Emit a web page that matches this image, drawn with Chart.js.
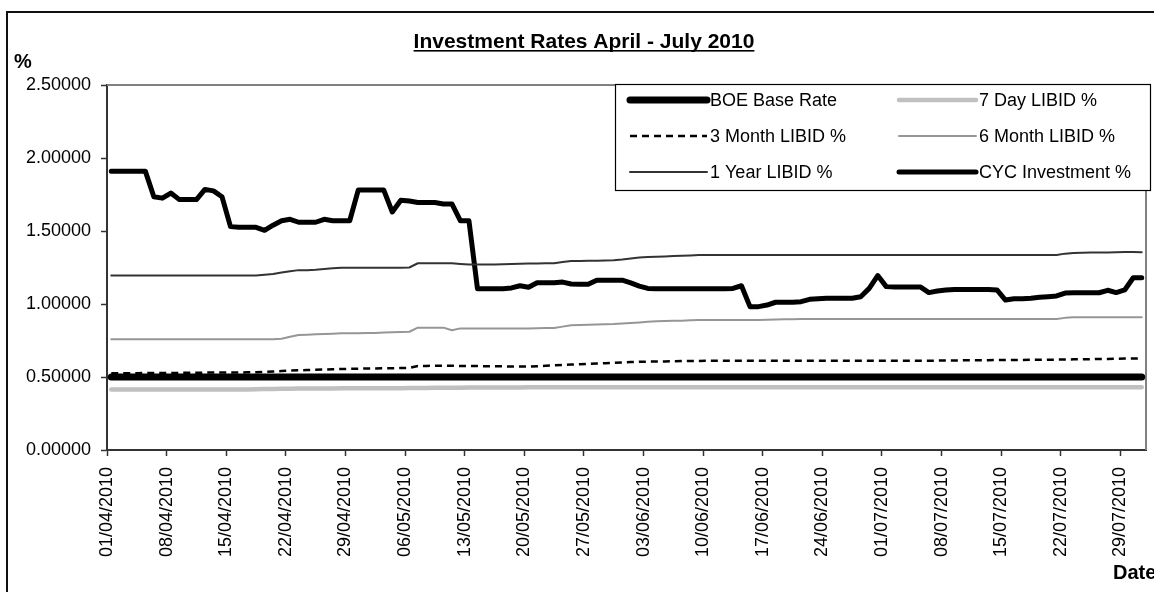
<!DOCTYPE html>
<html>
<head>
<meta charset="utf-8">
<title>Investment Rates April - July 2010</title>
<script src="https://cdn.jsdelivr.net/npm/chart.js@4.4.1/dist/chart.umd.min.js"></script>
<style>
    html, body { margin: 0; padding: 0; background: #fff; overflow: hidden; }
    #wrap { width: 1154px; height: 592px; }
</style>
</head>
<body>
<div id="wrap"><canvas id="rates" width="1154" height="592"></canvas></div>
<script>
// ---- text ----
const chartTitle = 'Investment Rates April - July 2010';
const yAxisTitle = '%';
const xAxisTitle = 'Date';

// weekly date labels (one every 7 days from 01/04/2010)
const tickLabels = [
    '01/04/2010', '08/04/2010', '15/04/2010', '22/04/2010', '29/04/2010',
    '06/05/2010', '13/05/2010', '20/05/2010', '27/05/2010', '03/06/2010',
    '10/06/2010', '17/06/2010', '24/06/2010', '01/07/2010', '08/07/2010',
    '15/07/2010', '22/07/2010', '29/07/2010'
];
const tickStepDays = 7;
const totalDays = 122; // 01/04/2010 - 31/07/2010

const yTickLabels = ['0.00000', '0.50000', '1.00000', '1.50000', '2.00000', '2.50000'];

const seriesNames = [
    'BOE Base Rate', '7 Day LIBID %', '3 Month LIBID %',
    '6 Month LIBID %', '1 Year LIBID %', 'CYC Investment %'
];

// ---- daily rates, one row per week ----
const boeBase = [
    0.5, 0.5, 0.5, 0.5, 0.5, 0.5, 0.5,
    0.5, 0.5, 0.5, 0.5, 0.5, 0.5, 0.5,
    0.5, 0.5, 0.5, 0.5, 0.5, 0.5, 0.5,
    0.5, 0.5, 0.5, 0.5, 0.5, 0.5, 0.5,
    0.5, 0.5, 0.5, 0.5, 0.5, 0.5, 0.5,
    0.5, 0.5, 0.5, 0.5, 0.5, 0.5, 0.5,
    0.5, 0.5, 0.5, 0.5, 0.5, 0.5, 0.5,
    0.5, 0.5, 0.5, 0.5, 0.5, 0.5, 0.5,
    0.5, 0.5, 0.5, 0.5, 0.5, 0.5, 0.5,
    0.5, 0.5, 0.5, 0.5, 0.5, 0.5, 0.5,
    0.5, 0.5, 0.5, 0.5, 0.5, 0.5, 0.5,
    0.5, 0.5, 0.5, 0.5, 0.5, 0.5, 0.5,
    0.5, 0.5, 0.5, 0.5, 0.5, 0.5, 0.5,
    0.5, 0.5, 0.5, 0.5, 0.5, 0.5, 0.5,
    0.5, 0.5, 0.5, 0.5, 0.5, 0.5, 0.5,
    0.5, 0.5, 0.5, 0.5, 0.5, 0.5, 0.5,
    0.5, 0.5, 0.5, 0.5, 0.5, 0.5, 0.5,
    0.5, 0.5, 0.5
];

const libid7Day = [
    0.415, 0.415, 0.415, 0.415, 0.415, 0.415, 0.415,
    0.415, 0.415, 0.415, 0.415, 0.415, 0.415, 0.415,
    0.415, 0.415, 0.415, 0.416, 0.417, 0.418, 0.419,
    0.42, 0.421, 0.421, 0.422, 0.422, 0.422, 0.423,
    0.423, 0.423, 0.423, 0.423, 0.423, 0.423, 0.423,
    0.424, 0.425, 0.425, 0.426, 0.426, 0.427, 0.427,
    0.428, 0.428, 0.428, 0.428, 0.428, 0.428, 0.428,
    0.429, 0.429, 0.429, 0.429, 0.429, 0.429, 0.429,
    0.43, 0.43, 0.43, 0.43, 0.43, 0.43, 0.43,
    0.43, 0.43, 0.43, 0.43, 0.43, 0.43, 0.43,
    0.43, 0.43, 0.43, 0.43, 0.43, 0.43, 0.43,
    0.43, 0.43, 0.43, 0.43, 0.43, 0.43, 0.43,
    0.43, 0.43, 0.43, 0.43, 0.43, 0.43, 0.43,
    0.43, 0.43, 0.43, 0.43, 0.43, 0.43, 0.43,
    0.43, 0.43, 0.43, 0.43, 0.43, 0.43, 0.43,
    0.43, 0.43, 0.43, 0.43, 0.43, 0.43, 0.43,
    0.43, 0.43, 0.43, 0.43, 0.43, 0.43, 0.43,
    0.43, 0.43, 0.43
];

const libid3Month = [
    0.525, 0.525, 0.526, 0.526, 0.527, 0.527, 0.528,
    0.528, 0.528, 0.529, 0.529, 0.53, 0.53, 0.53,
    0.531, 0.531, 0.532, 0.533, 0.535, 0.538, 0.541,
    0.544, 0.546, 0.548, 0.55, 0.551, 0.553, 0.555,
    0.556, 0.557, 0.558, 0.559, 0.56, 0.56, 0.561,
    0.562, 0.575, 0.576, 0.577, 0.577, 0.577, 0.576,
    0.576, 0.575, 0.574, 0.573, 0.573, 0.572, 0.572,
    0.572, 0.574, 0.577, 0.58, 0.582, 0.585, 0.588,
    0.59, 0.593, 0.595, 0.597, 0.6, 0.602, 0.604,
    0.605, 0.606, 0.607, 0.608, 0.609, 0.61, 0.61,
    0.611, 0.611, 0.612, 0.612, 0.612, 0.612, 0.612,
    0.611, 0.611, 0.611, 0.611, 0.611, 0.611, 0.611,
    0.611, 0.611, 0.611, 0.611, 0.611, 0.611, 0.611,
    0.611, 0.611, 0.611, 0.612, 0.612, 0.612, 0.612,
    0.613, 0.613, 0.614, 0.614, 0.615, 0.615, 0.616,
    0.616, 0.617, 0.617, 0.618, 0.618, 0.619, 0.619,
    0.62, 0.621, 0.621, 0.622, 0.623, 0.624, 0.625,
    0.626, 0.627, 0.628
];

const libid6Month = [
    0.758, 0.758, 0.758, 0.758, 0.758, 0.758, 0.758,
    0.758, 0.758, 0.758, 0.758, 0.758, 0.758, 0.758,
    0.758, 0.758, 0.758, 0.758, 0.758, 0.758, 0.762,
    0.775, 0.788, 0.79, 0.792, 0.794, 0.797, 0.799,
    0.8, 0.8, 0.801, 0.802, 0.804, 0.806, 0.808,
    0.81, 0.838, 0.838, 0.838, 0.838, 0.82, 0.833,
    0.833, 0.833, 0.833, 0.833, 0.833, 0.833, 0.833,
    0.833, 0.834, 0.835, 0.836, 0.845, 0.855, 0.857,
    0.858, 0.86, 0.862, 0.863, 0.866, 0.87, 0.874,
    0.878, 0.882, 0.884, 0.885, 0.886, 0.888, 0.89,
    0.89, 0.89, 0.89, 0.89, 0.89, 0.89, 0.89,
    0.892, 0.894, 0.895, 0.896, 0.897, 0.897, 0.897,
    0.897, 0.897, 0.897, 0.897, 0.897, 0.897, 0.897,
    0.897, 0.897, 0.897, 0.897, 0.897, 0.897, 0.897,
    0.897, 0.897, 0.897, 0.897, 0.897, 0.897, 0.897,
    0.897, 0.897, 0.897, 0.897, 0.897, 0.897, 0.897,
    0.905, 0.909, 0.909, 0.909, 0.909, 0.909, 0.909,
    0.909, 0.909, 0.909
];

const libid1Year = [
    1.195, 1.195, 1.195, 1.195, 1.195, 1.195, 1.195,
    1.195, 1.195, 1.195, 1.195, 1.195, 1.195, 1.195,
    1.195, 1.195, 1.195, 1.195, 1.2, 1.205, 1.215,
    1.225, 1.232, 1.232, 1.235, 1.24, 1.245, 1.249,
    1.249, 1.249, 1.249, 1.249, 1.249, 1.249, 1.249,
    1.25, 1.279, 1.279, 1.279, 1.279, 1.279, 1.274,
    1.27, 1.27, 1.27, 1.27, 1.272, 1.274, 1.276,
    1.277, 1.278, 1.279, 1.279, 1.288, 1.295, 1.295,
    1.296, 1.297, 1.298, 1.3, 1.305, 1.312, 1.318,
    1.322, 1.324, 1.326, 1.328, 1.33, 1.333, 1.335,
    1.335, 1.335, 1.335, 1.335, 1.335, 1.335, 1.335,
    1.335, 1.335, 1.335, 1.335, 1.335, 1.335, 1.335,
    1.335, 1.335, 1.335, 1.335, 1.335, 1.335, 1.335,
    1.335, 1.335, 1.335, 1.335, 1.335, 1.335, 1.335,
    1.335, 1.335, 1.335, 1.335, 1.335, 1.335, 1.335,
    1.335, 1.335, 1.335, 1.335, 1.335, 1.335, 1.335,
    1.345, 1.35, 1.351, 1.352, 1.352, 1.353, 1.355,
    1.356, 1.356, 1.355
];

const cycInvestment = [
    1.91, 1.91, 1.91, 1.91, 1.91, 1.735, 1.725,
    1.76, 1.715, 1.715, 1.715, 1.785, 1.775, 1.735,
    1.53, 1.525, 1.525, 1.525, 1.505, 1.54, 1.57,
    1.58, 1.56, 1.56, 1.56, 1.58, 1.57, 1.57,
    1.57, 1.78, 1.78, 1.78, 1.78, 1.63, 1.71,
    1.705, 1.695, 1.695, 1.695, 1.685, 1.685, 1.57,
    1.57, 1.105, 1.105, 1.105, 1.105, 1.11, 1.125,
    1.115, 1.145, 1.145, 1.145, 1.15, 1.137, 1.135,
    1.135, 1.163, 1.163, 1.163, 1.163, 1.145, 1.123,
    1.107, 1.105, 1.105, 1.105, 1.105, 1.105, 1.105,
    1.105, 1.105, 1.105, 1.107, 1.125, 0.982, 0.982,
    0.993, 1.012, 1.012, 1.012, 1.016, 1.032, 1.036,
    1.039, 1.039, 1.039, 1.039, 1.05, 1.107, 1.195,
    1.119, 1.117, 1.117, 1.117, 1.117, 1.078, 1.089,
    1.096, 1.1, 1.1, 1.1, 1.1, 1.1, 1.096,
    1.027, 1.036, 1.036, 1.039, 1.046, 1.05, 1.055,
    1.075, 1.077, 1.077, 1.077, 1.077, 1.094, 1.078,
    1.096, 1.18, 1.18
];

const FONT = '"Liberation Sans", Arial, Helvetica, sans-serif';

// each day sits in the middle of its slot, ticks fall on day boundaries
function toPoints(values) {
    return values.map((v, i) => ({ x: i + 0.5, y: v }));
}

function lineSet(label, values, color, width, dash) {
    return {
        label,
        data: toPoints(values),
        borderColor: color,
        borderWidth: width,
        borderDash: dash || [],
        borderCapStyle: dash ? 'butt' : 'round',
        borderJoinStyle: 'round',
        pointRadius: 0,
        tension: 0,
        fill: false
    };
}

// frame, title, axis captions and the two-column legend
const decor = {
    id: 'decor',
    beforeDatasetsDraw(chart) {
        const { ctx, chartArea: a } = chart;
        ctx.save();
        ctx.strokeStyle = '#808080';
        ctx.lineWidth = 2;
        ctx.beginPath();
        ctx.moveTo(a.left, a.top);
        ctx.lineTo(a.right, a.top);
        ctx.lineTo(a.right, a.bottom);
        ctx.stroke();
        ctx.restore();
    },
    afterDraw(chart) {
        const ctx = chart.ctx;
        ctx.save();

        // outer chart frame
        ctx.strokeStyle = '#111';
        ctx.lineWidth = 2;
        ctx.strokeRect(7, 12, 1300, 800);

        // title, underlined
        ctx.fillStyle = '#000';
        ctx.font = 'bold 21px ' + FONT;
        ctx.textAlign = 'center';
        ctx.textBaseline = 'middle';
        ctx.fillText(chartTitle, 584, 42);
        const tw = ctx.measureText(chartTitle).width;
        ctx.fillRect(584 - tw / 2, 50, tw, 1.6);

        // axis captions
        ctx.textAlign = 'left';
        ctx.font = 'bold 20px ' + FONT;
        ctx.fillText(yAxisTitle, 14, 62);
        ctx.fillText(xAxisTitle, 1113, 573);

        // legend box
        const box = { left: 615, top: 84, right: 1150, bottom: 190 };
        ctx.fillStyle = '#fff';
        ctx.fillRect(box.left, box.top, box.right - box.left, box.bottom - box.top);
        ctx.strokeStyle = '#000';
        ctx.lineWidth = 1.2;
        ctx.strokeRect(box.left + 0.5, box.top + 0.5, box.right - box.left, box.bottom - box.top);

        const colX = [630, 899];
        const rowY = [100, 136, 172];
        ctx.font = '18px ' + FONT;
        chart.data.datasets.forEach((ds, i) => {
            const x0 = colX[i % 2];
            const y = rowY[Math.floor(i / 2)];
            ctx.strokeStyle = ds.borderColor;
            ctx.lineWidth = ds.borderWidth;
            ctx.setLineDash(ds.borderDash);
            ctx.lineCap = ds.borderCapStyle;
            ctx.beginPath();
            ctx.moveTo(x0, y);
            ctx.lineTo(x0 + 77, y);
            ctx.stroke();
            ctx.setLineDash([]);
            ctx.fillStyle = '#000';
            ctx.fillText(ds.label, x0 + 80, y + 1);
        });

        ctx.restore();
    }
};

new Chart(document.getElementById('rates'), {
    type: 'line',
    data: {
        datasets: [
            lineSet(seriesNames[0], boeBase, '#000000', 7),
            lineSet(seriesNames[1], libid7Day, '#c0c0c0', 4.5),
            lineSet(seriesNames[2], libid3Month, '#000000', 2.5, [7, 5]),
            lineSet(seriesNames[3], libid6Month, '#969696', 2),
            lineSet(seriesNames[4], libid1Year, '#333333', 2),
            lineSet(seriesNames[5], cycInvestment, '#000000', 5)
        ]
    },
    options: {
        responsive: false,
        animation: false,
        devicePixelRatio: 1,
        layout: { padding: { top: 85, right: 8, bottom: 0, left: 0 } },
        plugins: {
            legend: { display: false },
            tooltip: { enabled: false }
        },
        scales: {
            x: {
                type: 'linear',
                min: 0,
                max: totalDays,
                afterBuildTicks: (s) => {
                    s.ticks = tickLabels.map((_, k) => ({ value: k * tickStepDays }));
                },
                afterFit: (s) => {
                    s.height = 142;
                    s.paddingLeft = 0;
                    s.paddingRight = 0;
                },
                ticks: {
                    autoSkip: false,
                    minRotation: 90,
                    maxRotation: 90,
                    padding: 11,
                    color: '#000',
                    font: { family: FONT, size: 18 },
                    callback: (v, i) => tickLabels[i]
                },
                grid: { drawOnChartArea: false, drawTicks: true, tickLength: 6, color: '#333', tickWidth: 1.5 },
                border: { display: true, color: '#333', width: 2 }
            },
            y: {
                min: 0,
                max: 2.5,
                afterFit: (s) => { s.width = 107; },
                ticks: {
                    stepSize: 0.5,
                    padding: 10,
                    color: '#000',
                    font: { family: FONT, size: 18 },
                    callback: (v, i) => yTickLabels[i]
                },
                grid: { drawOnChartArea: false, drawTicks: true, tickLength: 6, color: '#333', tickWidth: 1.5 },
                border: { display: true, color: '#333', width: 2 }
            }
        }
    },
    plugins: [decor]
});
</script>
</body>
</html>
